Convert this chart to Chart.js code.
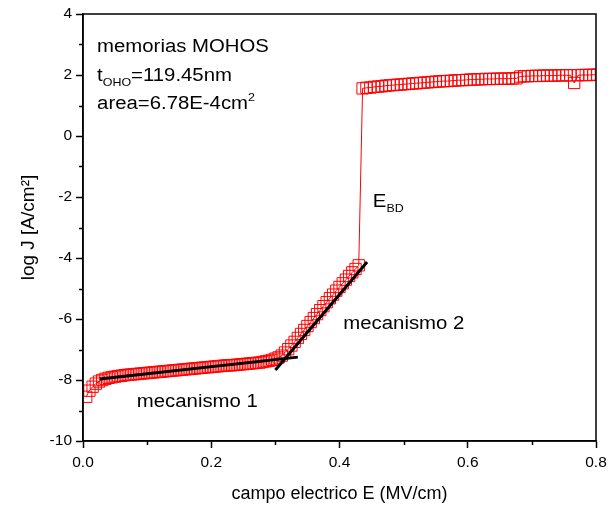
<!DOCTYPE html>
<html>
<head>
<meta charset="utf-8">
<script src="https://cdn.jsdelivr.net/npm/chart.js@4/dist/chart.umd.min.js"></script>
<style>
  html, body { margin: 0; padding: 0; background: #fff; }
  #wrap { width: 609px; height: 508px; }
</style>
</head>
<body>
<div id="wrap"><canvas id="myChart" width="609" height="508"></canvas></div>
<script>
// measured J-E curve (field in MV/cm, log J)
const lowE = [0.005,0.010,0.015,0.020,0.025,0.030,0.035,0.040,0.045,0.050,
  0.055,0.060,0.065,0.070,0.075,0.080,0.085,0.090,0.095,0.100,
  0.105,0.110,0.115,0.120,0.125,0.130,0.135,0.140,0.145,0.150,
  0.155,0.160,0.165,0.170,0.175,0.180,0.185,0.190,0.195,0.200,
  0.205,0.210,0.215,0.220,0.225,0.230,0.235,0.240,0.245,0.250,
  0.255,0.260,0.265,0.270,0.275,0.280,0.285,0.290,0.295,0.300]
const lowJ = [-8.55,-8.35,-8.22,-8.12,-8.05,-8.00,-7.96,-7.93,-7.91,-7.89,
  -7.87,-7.86,-7.84,-7.83,-7.82,-7.81,-7.80,-7.79,-7.78,-7.77,
  -7.76,-7.75,-7.74,-7.73,-7.72,-7.71,-7.70,-7.69,-7.68,-7.67,
  -7.66,-7.65,-7.64,-7.63,-7.62,-7.61,-7.60,-7.59,-7.58,-7.57,
  -7.56,-7.55,-7.54,-7.53,-7.52,-7.52,-7.51,-7.50,-7.49,-7.48,
  -7.47,-7.46,-7.45,-7.44,-7.43,-7.41,-7.39,-7.37,-7.34,-7.30]
const riseE = [0.305,0.310,0.315,0.320,0.325,0.330,0.335,0.340,0.345,0.350,
  0.355,0.360,0.365,0.370,0.375,0.380,0.385,0.390,0.395,0.400,
  0.405,0.410,0.415,0.420,0.425,0.430]
const riseJ = [-7.26,-7.20,-7.10,-6.99,-6.87,-6.75,-6.62,-6.49,-6.36,-6.23,
  -6.10,-5.97,-5.84,-5.71,-5.58,-5.45,-5.32,-5.20,-5.07,-4.95,
  -4.83,-4.71,-4.59,-4.47,-4.36,-4.24]
const highE = [0.436,0.442,0.448,0.454,0.460,0.466,0.472,0.478,0.484,0.490,
  0.496,0.502,0.508,0.514,0.520,0.526,0.532,0.538,0.544,0.550,
  0.556,0.562,0.568,0.574,0.580,0.586,0.592,0.598,0.604,0.610,
  0.616,0.622,0.628,0.634,0.640,0.646,0.652,0.658,0.664,0.670,
  0.676,0.682,0.688,0.694,0.700,0.706,0.712,0.718,0.724,0.730,
  0.736,0.742,0.748,0.754,0.760,0.766,0.772,0.778,0.784,0.790,
  0.796,0.802]
const highJ = [1.56,1.58,1.59,1.61,1.62,1.63,1.65,1.66,1.67,1.68,
  1.69,1.70,1.71,1.72,1.73,1.74,1.75,1.76,1.77,1.78,
  1.79,1.80,1.80,1.81,1.82,1.83,1.83,1.84,1.85,1.85,
  1.86,1.86,1.87,1.87,1.87,1.88,1.88,1.88,1.88,1.89,
  1.89,1.95,1.96,1.96,1.97,1.97,1.97,1.98,1.98,1.98,
  1.98,1.99,1.99,1.99,1.99,1.74,1.99,2.00,2.00,2.00,
  2.01,2.01]

// linear fits (end points)
const fit1E = [0.026, 0.335]
const fit1J = [-7.97, -7.25]
const fit2E = [0.300, 0.443]
const fit2J = [-7.67, -4.13]

// axes
const xMin = 0, xMax = 0.8, xStep = 0.2
const yMin = -10, yMax = 4, yStep = 2
const xMinorTicks = [0.1, 0.3, 0.5, 0.7]
const yMinorTicks = [-9, -7, -5, -3, -1, 1, 3]

const FONT = "'Liberation Sans', Arial, sans-serif"

function toPoints(xs, ys) {
  return xs.map((x, i) => ({ x: x, y: ys[i] }))
}

let measE = lowE.concat(riseE, highE)
let measJ = lowJ.concat(riseJ, highJ)

// text labels placed in data coordinates
const notes = [
  { x: 0.022, y: 2.75, runs: [{ t: 'memorias MOHOS' }] },
  { x: 0.022, y: 1.80, runs: [{ t: 't' }, { t: 'OHO', sub: true }, { t: '=119.45nm' }] },
  { x: 0.022, y: 0.88, runs: [{ t: 'area=6.78E-4cm' }, { t: '2', sup: true }] },
  { x: 0.452, y: -2.33, runs: [{ t: 'E' }, { t: 'BD', sub: true }] },
  { x: 0.406, y: -6.33, runs: [{ t: 'mecanismo 2' }] },
  { x: 0.084, y: -8.89, runs: [{ t: 'mecanismo 1' }] }
]

const extras = {
  id: 'extras',
  afterDraw(chart) {
    const ctx = chart.ctx
    const a = chart.chartArea
    const xs = chart.scales.x, ys = chart.scales.y
    ctx.save()
    // frame
    ctx.strokeStyle = '#000'
    ctx.lineWidth = 1.5
    ctx.strokeRect(a.left, a.top, a.right - a.left, a.bottom - a.top)
    // minor ticks
    ctx.beginPath()
    xMinorTicks.forEach(v => {
      let px = Math.round(xs.getPixelForValue(v)) + 0.5
      ctx.moveTo(px, a.bottom)
      ctx.lineTo(px, a.bottom + 4)
    })
    yMinorTicks.forEach(v => {
      let py = Math.round(ys.getPixelForValue(v)) + 0.5
      ctx.moveTo(a.left, py)
      ctx.lineTo(a.left - 4, py)
    })
    ctx.stroke()
    // notes
    ctx.fillStyle = '#000'
    ctx.textBaseline = 'alphabetic'
    ctx.textAlign = 'left'
    notes.forEach(n => {
      let px = xs.getPixelForValue(n.x)
      let py = ys.getPixelForValue(n.y)
      ctx.save()
      ctx.translate(px, py)
      ctx.scale(1.13, 1)
      let cx = 0
      n.runs.forEach(r => {
        let size = (r.sub || r.sup) ? 11 : 18
        let dy = r.sub ? 5 : (r.sup ? -8 : 0)
        ctx.font = size + 'px ' + FONT
        ctx.fillText(r.t, cx, dy)
        cx += ctx.measureText(r.t).width
      })
      ctx.restore()
    })
    ctx.restore()
  }
}

let ctx = document.getElementById('myChart').getContext('2d')

let chart = new Chart(ctx, {
  type: 'scatter',
  data: {
    datasets: [
      {
        label: 'fit 1',
        data: toPoints(fit1E, fit1J),
        showLine: true,
        borderColor: '#000',
        borderWidth: 3,
        pointRadius: 0,
        order: 0
      },
      {
        label: 'fit 2',
        data: toPoints(fit2E, fit2J),
        showLine: true,
        borderColor: '#000',
        borderWidth: 3,
        pointRadius: 0,
        order: 0
      },
      {
        label: 'medido',
        data: toPoints(measE, measJ),
        showLine: true,
        borderColor: '#ff0000',
        borderWidth: 1,
        pointStyle: 'rect',
        pointRadius: 8,
        pointBorderWidth: 1,
        pointBorderColor: '#ff0000',
        pointBackgroundColor: 'rgba(255,255,255,0)',
        order: 1
      }
    ]
  },
  options: {
    responsive: false,
    animation: false,
    layout: { padding: { left: 0, right: 13, top: 14, bottom: 0 } },
    plugins: {
      legend: { display: false },
      tooltip: { enabled: false }
    },
    scales: {
      x: {
        type: 'linear',
        min: xMin,
        max: xMax,
        afterFit: (s) => { s.height = 67; s.paddingRight = 0; s.paddingLeft = 0 },
        ticks: {
          stepSize: xStep,
          color: '#000',
          font: { family: FONT, size: 15.5 },
          padding: 5,
          maxRotation: 0,
          callback: (v) => v.toFixed(1)
        },
        grid: { drawOnChartArea: false, tickLength: 7, tickColor: '#000', tickWidth: 1.5 },
        border: { color: '#000', width: 1.5 },
        title: {
          display: true,
          text: 'campo electrico E (MV/cm)',
          color: '#000',
          font: { family: FONT, size: 18 },
          padding: { top: 0, bottom: 3 }
        }
      },
      y: {
        type: 'linear',
        min: yMin,
        max: yMax,
        afterFit: (s) => { s.width = 83 },
        ticks: {
          stepSize: yStep,
          color: '#000',
          font: { family: FONT, size: 15.5 },
          padding: 4
        },
        grid: { drawOnChartArea: false, tickLength: 7, tickColor: '#000', tickWidth: 1.5 },
        border: { color: '#000', width: 1.5 },
        title: {
          display: true,
          text: 'log J [A/cm²]',
          color: '#000',
          font: { family: FONT, size: 19 },
          padding: { top: 17, bottom: 0 }
        }
      }
    }
  },
  plugins: [extras]
})
</script>
</body>
</html>
